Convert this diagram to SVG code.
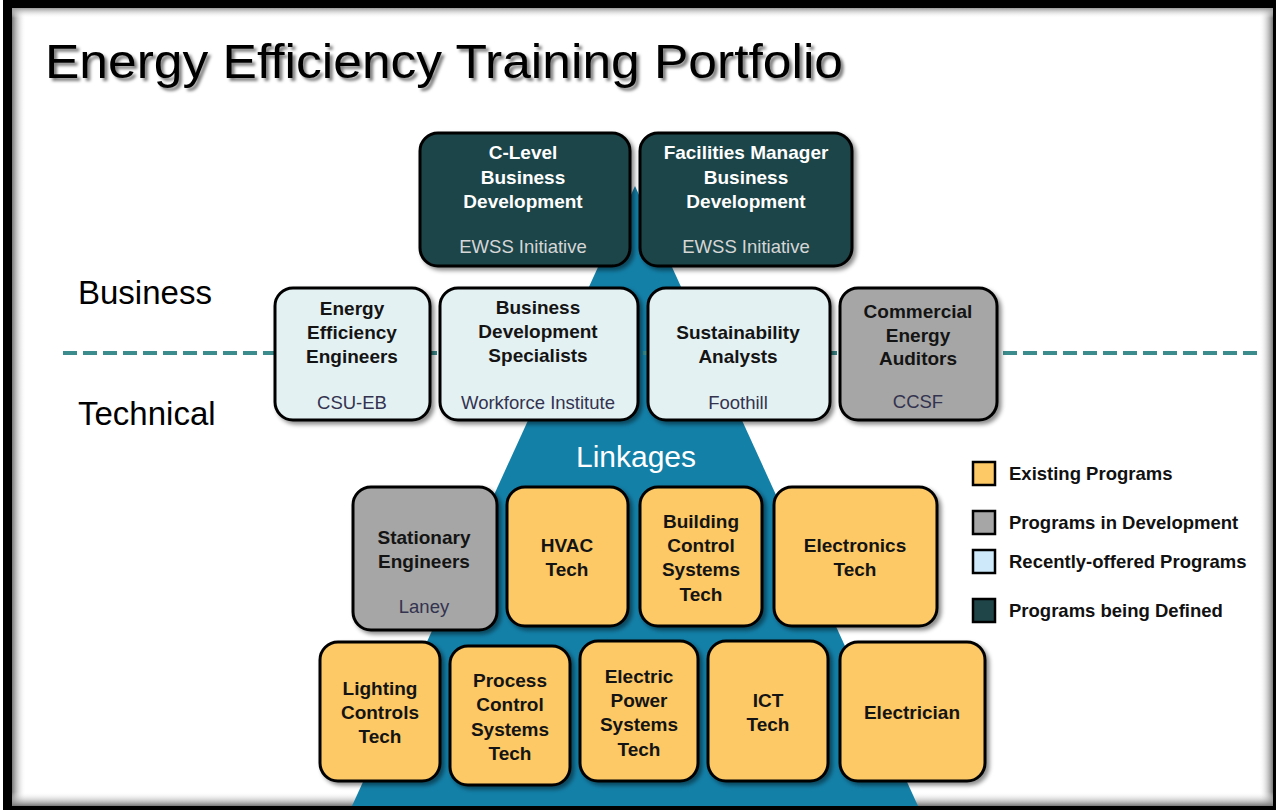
<svg xmlns="http://www.w3.org/2000/svg" width="1276" height="810" viewBox="0 0 1276 810">
<defs>
<style>
.bx{stroke:#000;stroke-width:3;filter:url(#sh)}
.dark{fill:#1F4548}
.light{fill:#E4F1F3}
.gray{fill:#A6A6A6}
.org{fill:#FDC866}
.t{font-family:"Liberation Sans",Arial,sans-serif;font-size:19px;font-weight:bold;text-anchor:middle}
.tw{fill:#FFFFFF}
.tb{fill:#141414}
.s{font-family:"Liberation Sans",Arial,sans-serif;font-size:18.5px;text-anchor:middle}
.sw{fill:#D6D6D6}
.sb{fill:#33334F}
.sec{font-family:"Liberation Sans",Arial,sans-serif;font-size:33px;fill:#000}
.lg{font-family:"Liberation Sans",Arial,sans-serif;font-size:18.5px;font-weight:bold;fill:#111}
.lq{stroke:#000;stroke-width:2.5}
</style>
<filter id="sh" x="-10%" y="-10%" width="130%" height="130%">
<feDropShadow dx="3" dy="3" stdDeviation="2" flood-color="#000" flood-opacity="0.45"/>
</filter>
<filter id="tsh" x="-5%" y="-20%" width="110%" height="150%">
<feDropShadow dx="3" dy="3" stdDeviation="1.5" flood-color="#000" flood-opacity="0.5"/>
</filter>
<linearGradient id="gl" x1="0" y1="0" x2="1" y2="0">
<stop offset="0" stop-color="#777"/><stop offset="1" stop-color="#fff" stop-opacity="0"/>
</linearGradient>
<linearGradient id="gr" x1="1" y1="0" x2="0" y2="0">
<stop offset="0" stop-color="#777"/><stop offset="1" stop-color="#fff" stop-opacity="0"/>
</linearGradient>
<linearGradient id="gb" x1="0" y1="1" x2="0" y2="0">
<stop offset="0" stop-color="#777"/><stop offset="1" stop-color="#fff" stop-opacity="0"/>
</linearGradient>
<linearGradient id="gt" x1="0" y1="0" x2="0" y2="1">
<stop offset="0" stop-color="#999"/><stop offset="1" stop-color="#fff" stop-opacity="0"/>
</linearGradient>
</defs>

<g id="frame">
<rect x="0" y="0" width="1276" height="810" fill="#fff"/>
<rect x="12" y="8" width="14" height="798" fill="url(#gl)"/>
<rect x="1259" y="8" width="14" height="798" fill="url(#gr)"/>
<rect x="12" y="792" width="1261" height="14" fill="url(#gb)"/>
<rect x="12" y="8" width="1261" height="10" fill="url(#gt)"/>
<path d="M3 0H1276V810H3Z M12 8V806H1273V8Z" fill="#000" fill-rule="evenodd"/>
</g>

<g id="title">
<text x="45" y="78" font-family="'Liberation Sans',Arial,sans-serif" font-size="49" fill="#000" textLength="798" lengthAdjust="spacingAndGlyphs" filter="url(#tsh)">Energy Efficiency Training Portfolio</text>
</g>

<g id="pyramid">
<path d="M635 186 L918 806 L352 806 Z" fill="#1380A8"/>
<text x="636" y="467" font-family="'Liberation Sans',Arial,sans-serif" font-size="30" fill="#fff" text-anchor="middle">Linkages</text>
</g>

<g id="connectors">
<line x1="63" y1="353" x2="1262" y2="353" stroke="#3B8C8C" stroke-width="4" stroke-dasharray="14 6"/>
</g>

<g id="sections">
<text class="sec" x="78" y="304">Business</text>
<text class="sec" x="78" y="425">Technical</text>
</g>

<g id="n-clevel">
<rect class="bx dark" x="420" y="133" width="210" height="133" rx="18"/>
<text class="t tw" x="523" y="159">C-Level</text>
<text class="t tw" x="523" y="184">Business</text>
<text class="t tw" x="523" y="208">Development</text>
<text class="s sw" x="523" y="253">EWSS Initiative</text>
</g>
<g id="n-facilities">
<rect class="bx dark" x="640" y="133" width="212" height="133" rx="18"/>
<text class="t tw" x="746" y="159">Facilities Manager</text>
<text class="t tw" x="746" y="184">Business</text>
<text class="t tw" x="746" y="208">Development</text>
<text class="s sw" x="746" y="253">EWSS Initiative</text>
</g>

<g id="n-eee">
<rect class="bx light" x="275" y="288" width="155" height="132" rx="18"/>
<text class="t tb" x="352" y="315">Energy</text>
<text class="t tb" x="352" y="339">Efficiency</text>
<text class="t tb" x="352" y="363">Engineers</text>
<text class="s sb" x="352" y="409">CSU-EB</text>
</g>
<g id="n-bds">
<rect class="bx light" x="440" y="288" width="198" height="132" rx="18"/>
<text class="t tb" x="538" y="314">Business</text>
<text class="t tb" x="538" y="338">Development</text>
<text class="t tb" x="538" y="362">Specialists</text>
<text class="s sb" x="538" y="409">Workforce Institute</text>
</g>
<g id="n-sa">
<rect class="bx light" x="648" y="288" width="182" height="132" rx="18"/>
<text class="t tb" x="738" y="339">Sustainability</text>
<text class="t tb" x="738" y="363">Analysts</text>
<text class="s sb" x="738" y="409">Foothill</text>
</g>
<g id="n-cea">
<rect class="bx gray" x="840" y="288" width="157" height="132" rx="18"/>
<text class="t tb" x="918" y="318">Commercial</text>
<text class="t tb" x="918" y="342">Energy</text>
<text class="t tb" x="918" y="365">Auditors</text>
<text class="s sb" x="918" y="408">CCSF</text>
</g>

<g id="n-stationary">
<rect class="bx gray" x="353" y="487" width="144" height="143" rx="18"/>
<text class="t tb" x="424" y="544">Stationary</text>
<text class="t tb" x="424" y="568">Engineers</text>
<text class="s sb" x="424" y="613">Laney</text>
</g>
<g id="n-hvac">
<rect class="bx org" x="507" y="487" width="121" height="139" rx="18"/>
<text class="t tb" x="567" y="552">HVAC</text>
<text class="t tb" x="567" y="576">Tech</text>
</g>
<g id="n-bcst">
<rect class="bx org" x="640" y="487" width="122" height="139" rx="18"/>
<text class="t tb" x="701" y="528">Building</text>
<text class="t tb" x="701" y="552">Control</text>
<text class="t tb" x="701" y="576">Systems</text>
<text class="t tb" x="701" y="601">Tech</text>
</g>
<g id="n-electronics">
<rect class="bx org" x="774" y="487" width="163" height="139" rx="18"/>
<text class="t tb" x="855" y="552">Electronics</text>
<text class="t tb" x="855" y="576">Tech</text>
</g>

<g id="n-lighting">
<rect class="bx org" x="320" y="642" width="120" height="139" rx="18"/>
<text class="t tb" x="380" y="695">Lighting</text>
<text class="t tb" x="380" y="719">Controls</text>
<text class="t tb" x="380" y="743">Tech</text>
</g>
<g id="n-process">
<rect class="bx org" x="450" y="646" width="120" height="139" rx="18"/>
<text class="t tb" x="510" y="687">Process</text>
<text class="t tb" x="510" y="711">Control</text>
<text class="t tb" x="510" y="736">Systems</text>
<text class="t tb" x="510" y="760">Tech</text>
</g>
<g id="n-electric">
<rect class="bx org" x="580" y="641" width="118" height="140" rx="18"/>
<text class="t tb" x="639" y="683">Electric</text>
<text class="t tb" x="639" y="707">Power</text>
<text class="t tb" x="639" y="731">Systems</text>
<text class="t tb" x="639" y="756">Tech</text>
</g>
<g id="n-ict">
<rect class="bx org" x="708" y="641" width="120" height="140" rx="18"/>
<text class="t tb" x="768" y="707">ICT</text>
<text class="t tb" x="768" y="731">Tech</text>
</g>
<g id="n-electrician">
<rect class="bx org" x="840" y="642" width="145" height="139" rx="18"/>
<text class="t tb" x="912" y="719">Electrician</text>
</g>

<g id="legend">
<rect class="lq" x="973" y="462" width="22" height="23" fill="#FDC866"/>
<text class="lg" x="1009" y="480">Existing Programs</text>
<rect class="lq" x="973" y="511" width="22" height="23" fill="#A6A6A6"/>
<text class="lg" x="1009" y="529">Programs in Development</text>
<rect class="lq" x="973" y="550" width="22" height="23" fill="#CDE9FA"/>
<text class="lg" x="1009" y="568">Recently-offered Programs</text>
<rect class="lq" x="973" y="599" width="22" height="23" fill="#1F4548"/>
<text class="lg" x="1009" y="617">Programs being Defined</text>
</g>
</svg>
